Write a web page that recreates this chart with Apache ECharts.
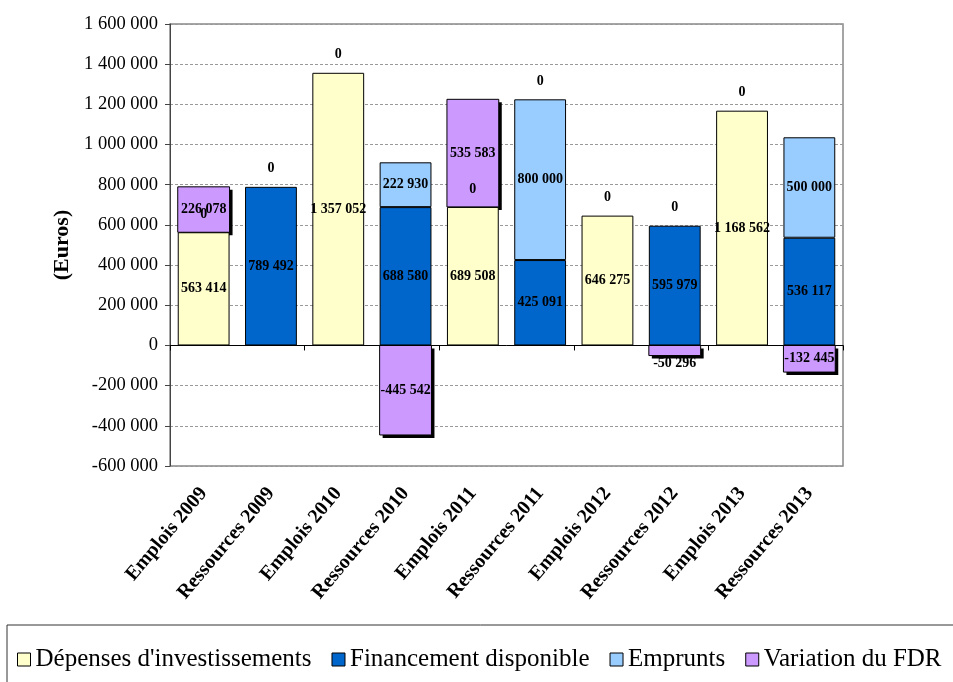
<!DOCTYPE html>
<html>
<head>
<meta charset="utf-8">
<script src="https://cdn.jsdelivr.net/npm/echarts@6/dist/echarts.min.js"></script>
<style>
  html, body { margin: 0; padding: 0; background: #fff; }
  #chart { width: 953px; height: 682px; }
</style>
</head>
<body>
<div id="chart"></div>
<script>
// Emplois / ressources d'investissement par exercice (en euros)
const categories = [
  'Emplois 2009', 'Ressources 2009', 'Emplois 2010', 'Ressources 2010',
  'Emplois 2011', 'Ressources 2011', 'Emplois 2012', 'Ressources 2012',
  'Emplois 2013', 'Ressources 2013'
];
const seriesNames = [
  "Dépenses d'investissements", 'Financement disponible', 'Emprunts', 'Variation du FDR'
];
const depenses    = [563414, null, 1357052, null, 689508, null, 646275, null, 1168562, null];
const financement = [null, 789492, null, 688580, null, 425091, null, 595979, null, 536117];
const emprunts    = [0, 0, null, 222930, 0, 800000, null, 0, null, 500000];
const variation   = [226078, null, 0, -445542, 535583, 0, 0, -50296, 0, -132445];

const yMin = -600000;
const yMax = 1600000;
const yStep = 200000;

const SERIF = "'Times New Roman', 'Liberation Serif', serif";
const BAR_RATIO = 0.77;          // bar width as a share of the category band
const LABEL_FONT = 'bold 14px ' + SERIF;

// "1234567" -> "1 234 567"
function fmt(v) {
  return String(v).replace(/\B(?=(\d{3})+(?!\d))/g, ' ');
}

// Zero segments show their "0" above the stack; very short segments put the label outside.
function items(values) {
  return values.map(function (v) {
    if (v === null) return null;
    if (v === 0) {
      return { value: 0, itemStyle: { borderWidth: 0 }, label: { position: 'top', distance: 11 } };
    }
    if (Math.abs(v) < 60000) {
      return { value: v, label: { position: v < 0 ? 'bottom' : 'top', distance: 1 } };
    }
    return v;
  });
}

const labelStyle = {
  show: true,
  position: 'inside',
  formatter: function (p) { return fmt(p.value); },
  fontFamily: SERIF,
  fontWeight: 'bold',
  fontSize: 14,
  color: '#000',
  textBorderWidth: 0
};

function barSeries(name, values, color) {
  return {
    name: name,
    type: 'bar',
    stack: 'total',
    barCategoryGap: ((1 - BAR_RATIO) * 100) + '%',
    data: items(values),
    itemStyle: { color: color, borderColor: '#000', borderWidth: 1 },
    label: labelStyle,
    emphasis: { disabled: true }
  };
}

// Variation du FDR sits on top of the positive stack (or below zero when negative)
// and is drawn with a hard drop shadow.
function variationBase(i, v) {
  if (v < 0) return 0;
  let base = 0;
  [depenses, financement, emprunts].forEach(function (arr) {
    if (arr[i] > 0) base += arr[i];
  });
  return base;
}
const variationData = [];
variation.forEach(function (v, i) {
  if (v !== null) variationData.push([i, v, variationBase(i, v)]);
});

function renderVariation(params, api) {
  const idx = api.value(0);
  const v = api.value(1);
  const base = api.value(2);
  const p0 = api.coord([idx, base]);
  const p1 = api.coord([idx, base + v]);
  const bw = api.size([1, 0])[0] * BAR_RATIO;
  const x = p0[0] - bw / 2;
  const yTop = Math.min(p0[1], p1[1]);
  const h = Math.abs(p1[1] - p0[1]);
  const children = [];
  if (v !== 0) {
    children.push({
      type: 'rect',
      shape: { x: x + 3, y: yTop + 3, width: bw, height: h },
      style: { fill: '#000' }
    });
    children.push({
      type: 'rect',
      shape: { x: x, y: yTop, width: bw, height: h },
      style: { fill: '#CC99FF', stroke: '#000', lineWidth: 1 }
    });
  }
  let ty, va;
  if (v === 0) { ty = p1[1] - 11; va = 'bottom'; }
  else if (Math.abs(v) < 60000) { ty = Math.max(p0[1], p1[1]) + 1; va = 'top'; }
  else { ty = yTop + h / 2; va = 'middle'; }
  children.push({
    type: 'text',
    z2: 10,
    style: { text: fmt(v), x: p0[0], y: ty, align: 'center', verticalAlign: va, font: LABEL_FONT, fill: '#000' }
  });
  return { type: 'group', children: children };
}

const chart = echarts.init(document.getElementById('chart'), null, { renderer: 'canvas' });

chart.setOption({
  animation: false,
  backgroundColor: '#fff',
  grid: {
    left: 170, right: 110, top: 24, bottom: 216,
    show: true, borderColor: '#888', borderWidth: 1.5, backgroundColor: 'transparent'
  },
  legend: {
    left: 7, top: 625, width: 1000,
    padding: [22, 40, 40, 10],
    itemGap: 20, itemWidth: 13, itemHeight: 13,
    icon: 'rect',
    borderColor: '#333', borderWidth: 1,
    itemStyle: { borderColor: '#000', borderWidth: 1 },
    textStyle: { fontFamily: SERIF, fontSize: 25, color: '#000' },
    data: seriesNames
  },
  xAxis: [
    {
      type: 'category',
      data: categories,
      position: 'bottom',
      axisLine: { show: false, onZero: false },
      axisTick: { show: false },
      splitLine: { show: false },
      axisLabel: {
        interval: 0, rotate: 50, margin: 24,
        fontFamily: SERIF, fontWeight: 'bold', fontSize: 20, color: '#000'
      }
    },
    {
      type: 'category',
      data: categories,
      position: 'bottom',
      axisLine: { show: true, onZero: true, lineStyle: { color: '#000', width: 1 } },
      axisTick: { show: true, length: 5, lineStyle: { color: '#000' } },
      axisLabel: { show: false },
      splitLine: { show: false }
    }
  ],
  yAxis: {
    type: 'value',
    min: yMin, max: yMax, interval: yStep,
    name: '(Euros)',
    nameLocation: 'middle',
    nameRotate: 90,
    nameGap: 97,
    nameTextStyle: { fontFamily: SERIF, fontWeight: 'bold', fontSize: 22, color: '#000' },
    axisLine: { show: true, lineStyle: { color: '#444' } },
    axisTick: { show: true, length: 5, lineStyle: { color: '#444' } },
    axisLabel: { margin: 12, fontFamily: SERIF, fontSize: 18.5, color: '#000', formatter: fmt },
    splitLine: { show: true, lineStyle: { color: '#999', type: [3, 2] } }
  },
  series: [
    barSeries(seriesNames[0], depenses, '#FFFFCC'),
    barSeries(seriesNames[1], financement, '#0066CC'),
    barSeries(seriesNames[2], emprunts, '#99CCFF'),
    {
      name: seriesNames[3],
      type: 'custom',
      xAxisIndex: 0,
      yAxisIndex: 0,
      data: variationData,
      encode: { x: 0, y: 1 },
      itemStyle: { color: '#CC99FF' },
      renderItem: renderVariation,
      emphasis: { disabled: true }
    }
  ]
});
</script>
</body>
</html>
